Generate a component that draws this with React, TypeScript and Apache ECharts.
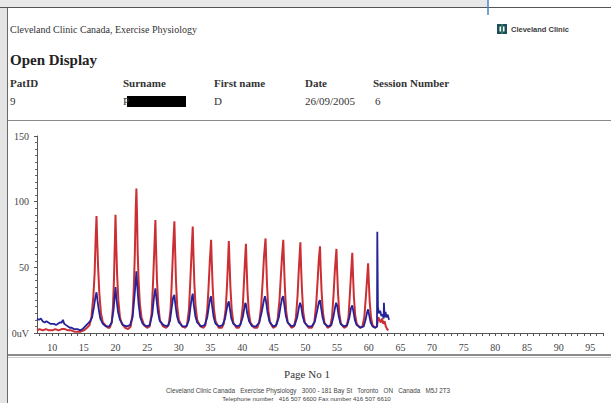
import React, { useEffect, useRef } from "react";
import * as echarts from "echarts";

// Time (s) vs amplitude (uV)
const redTrace: [number, number][] = [
  [7.6, 2], [8.0, 3], [8.5, 2], [9.0, 3], [9.5, 2], [10.0, 2], [10.5, 3], [11.0, 2], [11.5, 3], [12.0, 3],
  [12.5, 2], [13.0, 2], [13.5, 1], [14.0, 1], [14.5, 1], [15.0, 2], [15.5, 4], [15.9, 6], [16.2, 12], [16.5, 28],
  [16.7, 45], [16.85, 70], [17.0, 89], [17.1, 72], [17.25, 50], [17.45, 30], [17.7, 15], [18.0, 8], [18.4, 6], [18.8, 4],
  [19.1, 4], [19.4, 8], [19.6, 20], [19.75, 40], [19.9, 70], [20.0, 90], [20.1, 70], [20.25, 45], [20.45, 25], [20.7, 12],
  [21.0, 7], [21.5, 4], [22.0, 3], [22.4, 5], [22.7, 15], [22.9, 35], [23.05, 60], [23.2, 95], [23.3, 110], [23.4, 90],
  [23.5, 62], [23.65, 40], [23.85, 22], [24.1, 12], [24.5, 6], [25.0, 4], [25.4, 5], [25.7, 15], [25.9, 35], [26.1, 60],
  [26.3, 86], [26.4, 65], [26.55, 40], [26.75, 22], [27.0, 10], [27.5, 5], [28.0, 4], [28.4, 6], [28.7, 18], [28.9, 40],
  [29.1, 65], [29.3, 85], [29.4, 66], [29.55, 40], [29.75, 20], [30.0, 10], [30.5, 5], [31.0, 4], [31.3, 6], [31.6, 18],
  [31.8, 38], [32.0, 60], [32.2, 81], [32.3, 62], [32.45, 38], [32.65, 20], [32.9, 10], [33.4, 5], [33.9, 4], [34.2, 6],
  [34.5, 18], [34.7, 35], [34.9, 55], [35.1, 71], [35.2, 55], [35.35, 35], [35.55, 18], [35.8, 9], [36.3, 4], [36.8, 4],
  [37.1, 7], [37.4, 18], [37.6, 35], [37.75, 52], [37.9, 70], [38.0, 55], [38.15, 35], [38.35, 18], [38.6, 8], [39.1, 4],
  [39.5, 4], [39.8, 8], [40.1, 20], [40.3, 40], [40.45, 55], [40.6, 68], [40.7, 52], [40.85, 32], [41.05, 16], [41.3, 8],
  [41.9, 4], [42.4, 4], [42.7, 8], [43.0, 20], [43.25, 40], [43.45, 58], [43.7, 72], [43.8, 56], [43.95, 35], [44.15, 17],
  [44.4, 8], [44.9, 4], [45.3, 5], [45.6, 10], [45.9, 25], [46.1, 42], [46.3, 58], [46.5, 71], [46.6, 55], [46.75, 35],
  [46.95, 17], [47.2, 8], [47.8, 4], [48.2, 5], [48.5, 12], [48.75, 28], [48.95, 48], [49.2, 69], [49.3, 52], [49.45, 33],
  [49.65, 16], [49.9, 8], [50.5, 4], [51.0, 4], [51.4, 8], [51.7, 22], [51.95, 42], [52.1, 55], [52.3, 66], [52.4, 50],
  [52.55, 32], [52.75, 16], [53.0, 8], [53.5, 4], [53.9, 5], [54.2, 12], [54.45, 30], [54.65, 48], [54.9, 64], [55.0, 48],
  [55.15, 30], [55.35, 15], [55.6, 7], [56.1, 4], [56.5, 5], [56.8, 12], [57.0, 28], [57.2, 45], [57.4, 61], [57.5, 46],
  [57.65, 28], [57.85, 14], [58.1, 7], [58.6, 4], [59.0, 5], [59.3, 12], [59.55, 28], [59.75, 42], [59.9, 53], [60.0, 40],
  [60.15, 24], [60.35, 12], [60.6, 6], [61.0, 4], [61.3, 5], [61.5, 12], [61.7, 10], [61.9, 8], [62.1, 11], [62.3, 7],
  [62.5, 9], [62.7, 5], [62.9, 3], [63.1, 2],
];

const blueTrace: [number, number][] = [
  [7.6, 11], [7.9, 10], [8.2, 11], [8.5, 9], [8.8, 8], [9.1, 9], [9.4, 8], [9.7, 7], [10.0, 7], [10.3, 7],
  [10.6, 6], [10.9, 7], [11.2, 8], [11.5, 8], [11.7, 10], [11.9, 7], [12.2, 6], [12.5, 5], [12.8, 4], [13.1, 4],
  [13.4, 3], [13.7, 3], [14.0, 3], [14.4, 2], [14.8, 3], [15.2, 5], [15.6, 7], [16.0, 9], [16.3, 12], [16.6, 20],
  [16.85, 28], [17.0, 31], [17.15, 25], [17.35, 18], [17.6, 11], [18.0, 7], [18.5, 5], [19.0, 5], [19.4, 8], [19.7, 18],
  [19.9, 30], [20.0, 35], [20.15, 26], [20.4, 16], [20.7, 10], [21.2, 6], [21.8, 5], [22.3, 6], [22.7, 12], [23.0, 28],
  [23.2, 40], [23.3, 47], [23.45, 35], [23.65, 22], [23.9, 12], [24.3, 7], [24.9, 5], [25.4, 6], [25.8, 14], [26.1, 28],
  [26.3, 34], [26.45, 27], [26.7, 16], [27.0, 9], [27.6, 6], [28.2, 5], [28.6, 9], [28.9, 20], [29.1, 27], [29.3, 29],
  [29.45, 22], [29.7, 13], [30.0, 8], [30.6, 5], [31.2, 5], [31.6, 10], [31.9, 22], [32.1, 28], [32.2, 30], [32.35, 22],
  [32.6, 13], [32.9, 8], [33.5, 5], [34.1, 6], [34.5, 12], [34.8, 22], [35.0, 27], [35.1, 28], [35.25, 21], [35.5, 12],
  [35.8, 7], [36.4, 5], [36.9, 6], [37.3, 11], [37.6, 19], [37.8, 23], [37.9, 24], [38.05, 19], [38.3, 11], [38.6, 7],
  [39.2, 5], [39.7, 6], [40.1, 12], [40.35, 19], [40.5, 23], [40.6, 22], [40.8, 15], [41.1, 9], [41.6, 5], [42.2, 5],
  [42.7, 8], [43.1, 16], [43.4, 24], [43.6, 28], [43.75, 25], [44.0, 16], [44.3, 9], [44.9, 5], [45.4, 6], [45.8, 12],
  [46.1, 21], [46.35, 27], [46.5, 28], [46.65, 22], [46.9, 13], [47.2, 8], [47.8, 5], [48.3, 6], [48.7, 12], [48.95, 19],
  [49.15, 23], [49.3, 21], [49.55, 13], [49.85, 8], [50.4, 5], [51.0, 5], [51.5, 9], [51.9, 18], [52.15, 24], [52.3, 25],
  [52.45, 20], [52.7, 12], [53.0, 7], [53.6, 5], [54.1, 6], [54.4, 12], [54.7, 20], [54.85, 23], [55.0, 21], [55.25, 13],
  [55.55, 7], [56.1, 5], [56.6, 6], [56.95, 12], [57.2, 19], [57.4, 21], [57.55, 17], [57.8, 10], [58.1, 6], [58.7, 4],
  [59.2, 5], [59.5, 10], [59.75, 16], [59.9, 18], [60.05, 14], [60.3, 8], [60.6, 5], [61.0, 4], [61.3, 5], [61.35, 77],
  [61.45, 20], [61.6, 15], [61.8, 17], [62.0, 13], [62.2, 14], [62.35, 11], [62.4, 23], [62.5, 12], [62.65, 16], [62.8, 12],
  [63.0, 14], [63.2, 10],
];

const xTickLabels = [10, 15, 20, 25, 30, 35, 40, 45, 50, 55, 60, 65, 70, 75, 80, 85, 90, 95];
const xMinorTicks = [8, 9, 10, 11, 12, 13, 14, 15, 16, 17, 18, 19, 20, 21, 22, 23, 24, 25, 26, 27, 28, 29, 30, 31, 32, 33, 34, 35, 36, 37, 38, 39, 40, 41, 42, 43, 44, 45, 46, 47, 48, 49, 50, 51, 52, 53, 54, 55, 56, 57, 58, 59, 60, 61, 62, 63, 64, 65, 66, 67, 68, 69, 70, 71, 72, 73, 74, 75, 76, 77, 78, 79, 80, 81, 82, 83, 84, 85, 86, 87, 88, 89, 90, 91, 92, 93, 94, 95, 96, 97];

const headerCols = ["PatID", "Surname", "First name", "Date", "Session Number"];
const headerVals = ["9", "P", "D", "26/09/2005", "6"];

const SERIF = "'Liberation Serif', 'DejaVu Serif', serif";
const SANS = "'Liberation Sans', Arial, sans-serif";

export default function App() {
  const ref = useRef<HTMLDivElement>(null);
  useEffect(() => {
    if (!ref.current) return;
    const chart = echarts.init(ref.current, undefined, { renderer: "svg" });
    const colX = [10, 123, 214, 305, 373];
    const graphics: any[] = [
      // left gray strip
      { type: "rect", shape: { x: 0, y: 0, width: 7, height: 403 }, style: { fill: "#e4e4e4" }, z: -10 },
      { type: "line", shape: { x1: 7.5, y1: 7, x2: 7.5, y2: 403 }, style: { stroke: "#6a6a6a", lineWidth: 1 } },
      // top gray strip
      { type: "rect", shape: { x: 0, y: 0, width: 488, height: 7 }, style: { fill: "#e8e8e8" }, z: -10 },
      { type: "line", shape: { x1: 0, y1: 7.5, x2: 611, y2: 7.5 }, style: { stroke: "#555", lineWidth: 1.2 } },
      { type: "line", shape: { x1: 488, y1: 0, x2: 488, y2: 15 }, style: { stroke: "#4a86c8", lineWidth: 1.5 } },
      // separators
      { type: "line", shape: { x1: 8, y1: 120.5, x2: 611, y2: 120.5 }, style: { stroke: "#8a8a8a", lineWidth: 1 } },
      { type: "line", shape: { x1: 8, y1: 355, x2: 611, y2: 355 }, style: { stroke: "#8a8a8a", lineWidth: 2 } },
      { type: "line", shape: { x1: 8, y1: 357.5, x2: 611, y2: 357.5 }, style: { stroke: "#cfcfcf", lineWidth: 1 } },
      // header
      { type: "text", x: 10, y: 29, style: { text: "Cleveland Clinic Canada, Exercise Physiology", font: `10px ${SERIF}`, fill: "#333", verticalAlign: "middle" } },
      { type: "rect", shape: { x: 497, y: 24, width: 10, height: 10 }, style: { fill: "#1e4d5c" } },
      { type: "rect", shape: { x: 499.5, y: 26.5, width: 5, height: 5 }, style: { fill: "#ffffff" } },
      { type: "rect", shape: { x: 501, y: 24, width: 2, height: 10 }, style: { fill: "#2e7d5a" } },
      { type: "text", x: 511, y: 29.5, style: { text: "Cleveland Clinic", font: `bold 7.5px ${SANS}`, fill: "#3a3a3a", verticalAlign: "middle" } },
      { type: "text", x: 10, y: 60, style: { text: "Open Display", font: `bold 15px ${SERIF}`, fill: "#222", verticalAlign: "middle" } },
      // redaction box
      { type: "rect", shape: { x: 127, y: 96, width: 59, height: 11 }, style: { fill: "#000" } },
      // footer
      { type: "text", x: 307, y: 374, style: { text: "Page No 1", font: `11px ${SERIF}`, fill: "#333", align: "center", verticalAlign: "middle" } },
      { type: "text", x: 308, y: 390.5, style: { text: "Cleveland Clinic Canada   Exercise Physiology   3000 - 181 Bay St   Toronto   ON   Canada   M5J 2T3", font: `6.3px ${SANS}`, fill: "#444", align: "center", verticalAlign: "middle" } },
      { type: "text", x: 306.5, y: 398.5, style: { text: "Telephone number   416 507 6600 Fax number 416 507 6610", font: `6.2px ${SANS}`, fill: "#444", align: "center", verticalAlign: "middle" } },
    ];
    headerCols.forEach((t, i) => {
      graphics.push({ type: "text", x: colX[i], y: 83, style: { text: t, font: `bold 11px ${SERIF}`, fill: "#333", verticalAlign: "middle" } });
    });
    headerVals.forEach((t, i) => {
      graphics.push({ type: "text", x: colX[i] + (i === 4 ? 2 : 0), y: 101, style: { text: t, font: `11px ${SERIF}`, fill: "#333", verticalAlign: "middle" } });
    });

    chart.setOption({
      animation: false,
      backgroundColor: "#ffffff",
      grid: { left: 37, right: 8, top: 136, bottom: 70, containLabel: false },
      xAxis: {
        type: "value",
        min: 7.6,
        max: 97,
        axisLine: { show: true, lineStyle: { color: "#555", width: 1 } },
        axisTick: { show: true, customValues: xMinorTicks, length: 3, lineStyle: { color: "#555" } },
        axisLabel: { customValues: xTickLabels, color: "#444", fontFamily: SERIF, fontSize: 10, margin: 9 },
        splitLine: { show: false },
      },
      yAxis: {
        type: "value",
        min: 0,
        max: 150,
        interval: 50,
        axisLine: { show: true, lineStyle: { color: "#555", width: 1 } },
        axisTick: { show: true, length: 3, lineStyle: { color: "#555" } },
        minorTick: { show: true, splitNumber: 10, length: 2, lineStyle: { color: "#666" } },
        axisLabel: {
          color: "#444",
          fontFamily: SERIF,
          fontSize: 10,
          margin: 8,
          formatter: (v: number) => (v === 0 ? "0uV" : String(v)),
        },
        splitLine: { show: false },
      },
      series: [
        {
          type: "line",
          data: redTrace,
          showSymbol: false,
          lineStyle: { color: "#cc2f33", width: 2 },
          itemStyle: { color: "#cc2f33" },
          z: 2,
        },
        {
          type: "line",
          data: blueTrace,
          showSymbol: false,
          lineStyle: { color: "#262399", width: 1.8 },
          itemStyle: { color: "#262399" },
          z: 3,
        },
      ],
      graphic: graphics,
    });
    return () => chart.dispose();
  }, []);
  return <div ref={ref} style={{ position: "fixed", left: 0, top: 0, width: 611, height: 403 }} />;
}
